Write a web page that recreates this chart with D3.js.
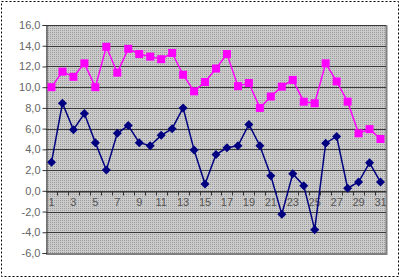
<!DOCTYPE html>
<html><head><meta charset="utf-8">
<script src="https://cdn.jsdelivr.net/npm/d3@7"></script>
<style>body{margin:0;background:#fff}svg{display:block}</style>
</head><body>
<script>
const categories = d3.range(1, 32).map(String);
const seriesPink = [10.0,11.5,11.0,12.3,10.0,13.9,11.4,13.7,13.2,12.95,12.7,13.3,11.2,9.6,10.5,11.8,13.2,10.1,10.4,8.0,9.1,10.05,10.7,8.6,8.45,12.3,10.55,8.6,5.55,5.95,5.0];
const seriesNavy = [2.75,8.45,5.9,7.45,4.65,2.0,5.55,6.3,4.65,4.35,5.35,6.0,8.0,3.95,0.65,3.5,4.15,4.35,6.4,4.35,1.45,-2.25,1.65,0.5,-3.75,4.6,5.25,0.25,0.85,2.7,0.85];
const yTicks = [-6,-4,-2,0,2,4,6,8,10,12,14,16];
const xTickLabels = categories.filter((d,i)=> i%2===0);

const W = 401, H = 279;
const m = {left:46, right:15, top:25, bottom:26};
const svg = d3.select("body").append("svg").attr("width",W).attr("height",H);

const defs = svg.append("defs");
const pat = defs.append("pattern").attr("id","dots").attr("width",2).attr("height",2).attr("patternUnits","userSpaceOnUse");
pat.append("rect").attr("width",2).attr("height",2).attr("fill","#cbcbcb");
pat.append("rect").attr("width",1).attr("height",1).attr("fill","#9c9c9c");

// outer dashed border
svg.append("rect").attr("x",1.5).attr("y",1.5).attr("width",W-4).attr("height",H-4)
  .attr("fill","none").attr("stroke","#000").attr("stroke-dasharray","2,2");

const x = d3.scaleBand().domain(categories).range([m.left, W-m.right]).padding(0);
const y = d3.scaleLinear().domain([-6,16]).range([H-m.bottom, m.top]);

// plot area
svg.append("rect").attr("x",m.left).attr("y",m.top).attr("width",W-m.right-m.left).attr("height",H-m.bottom-m.top)
  .attr("fill","url(#dots)");
// right/bottom shadow border
svg.append("path").attr("d",`M${W-m.right+0.5},${m.top}V${H-m.bottom+1}H${m.left}`)
  .attr("fill","none").attr("stroke","#808080").attr("stroke-width",2);

// gridlines
svg.append("g").selectAll("line").data(yTicks.filter(d=>d!==-6)).join("line")
  .attr("x1",m.left).attr("x2",W-m.right).attr("y1",d=>Math.round(y(d))+0.5).attr("y2",d=>Math.round(y(d))+0.5)
  .attr("stroke","#3a3a3a").attr("stroke-width",1);

// y axis
const yAxis = d3.axisLeft(y).tickValues(yTicks).tickFormat(d=>d3.format(".1f")(d).replace(".",",").replace("−","-")).tickSize(4);
const gy = svg.append("g").attr("transform",`translate(${m.left+0.5},0)`).call(yAxis);
gy.select(".domain").attr("stroke","#333");
gy.selectAll(".tick line").attr("stroke","#333");
gy.selectAll("text").attr("fill","#666").style("font-family","Liberation Sans, Arial, sans-serif").style("font-size","11px").attr("x",-6);

// x axis at y=0
const xAxis = d3.axisBottom(x).tickValues(categories).tickSize(0).tickFormat(d=> (+d)%2===1 ? d : "");
const gx = svg.append("g").attr("transform",`translate(0,${Math.round(y(0))+0.5})`).call(xAxis);
gx.select(".domain").attr("stroke","#333");
gx.selectAll("text").attr("fill","#555").attr("dy","0.71em").attr("y",7)
  .style("font-family","Liberation Sans, Arial, sans-serif").style("font-size","11px");
// tick marks at category boundaries
gx.append("g").selectAll("line").data(categories.slice(1)).join("line")
  .attr("x1",d=>Math.round(x(d))+0.5).attr("x2",d=>Math.round(x(d))+0.5).attr("y1",0).attr("y2",4)
  .attr("stroke","#333");

const cx = d => x(d) + x.bandwidth()/2;
const line = d3.line().x((d,i)=>cx(categories[i])).y(d=>y(d));

// pink series
svg.append("path").datum(seriesPink).attr("d",line).attr("fill","none").attr("stroke","#ff00ff").attr("stroke-width",1.5);
svg.append("g").selectAll("rect").data(seriesPink).join("rect")
  .attr("x",(d,i)=>cx(categories[i])-4).attr("y",d=>y(d)-4).attr("width",8).attr("height",8).attr("fill","#ff00ff");

// navy series
svg.append("path").datum(seriesNavy).attr("d",line).attr("fill","none").attr("stroke","#000080").attr("stroke-width",1.5);
svg.append("g").selectAll("path").data(seriesNavy).join("path")
  .attr("d",(d,i)=>{const px=cx(categories[i]), py=y(d); return `M${px},${py-4.5}L${px+4.5},${py}L${px},${py+4.5}L${px-4.5},${py}Z`;})
  .attr("fill","#000080");
</script>
</body></html>
